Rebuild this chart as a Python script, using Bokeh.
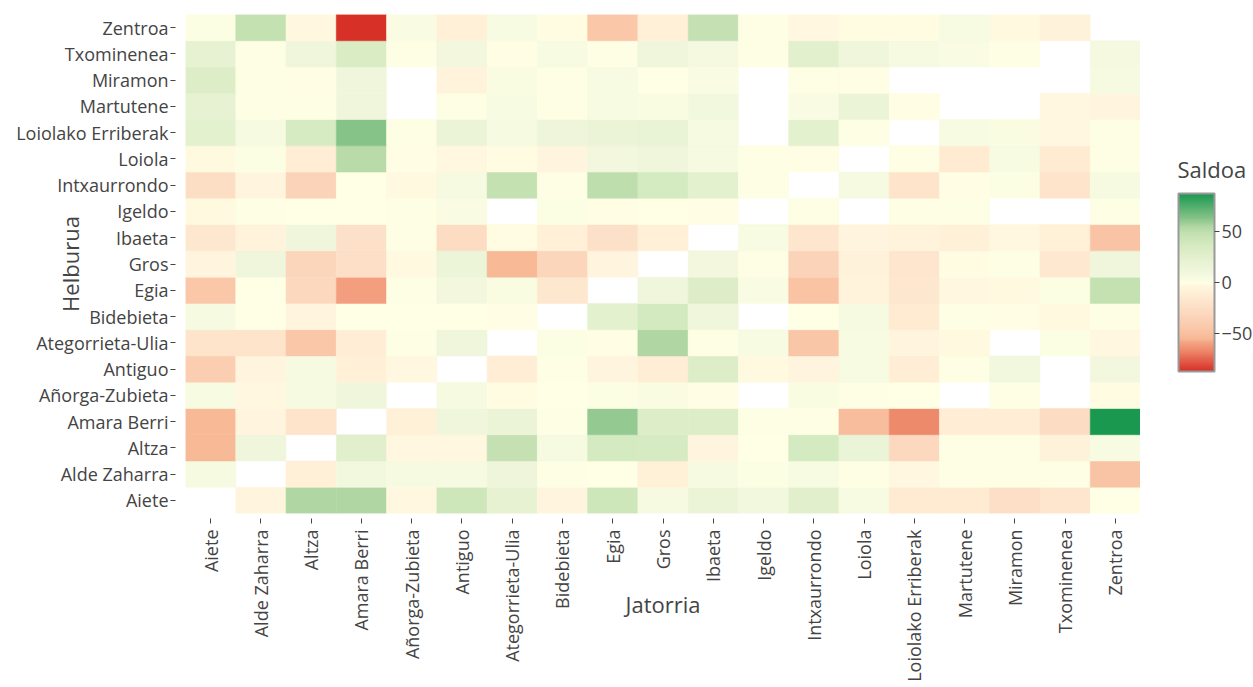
import math
from bokeh.plotting import figure
from bokeh.layouts import row
from bokeh.models import (ColumnDataSource, LinearColorMapper, ColorBar, FixedTicker,
                          FactorRange, Range1d, Label)
from bokeh.transform import transform
from bokeh.embed import file_html
from bokeh.resources import INLINE

# Districts (origin = columns "Jatorria", destination = rows "Helburua")
districts = ["Aiete", "Alde Zaharra", "Altza", "Amara Berri", "Añorga-Zubieta", "Antiguo",
             "Ategorrieta-Ulia", "Bidebieta", "Egia", "Gros", "Ibaeta", "Igeldo",
             "Intxaurrondo", "Loiola", "Loiolako Erriberak", "Martutene", "Miramon",
             "Txominenea", "Zentroa"]

# Net balance (Saldoa) per destination row, values in the column order of `districts`
# None = no data
to_Aiete = [None, -5, 55, 55, -4, 42, 22, -5, 42, 6, 16, 9, 26, 5, -14, -14, -24, -18, 0]
to_Alde_Zaharra = [6, None, -10, 9, 6, 6, 14, 1, 0, -9, 6, 2, 5, 1, -4, 1, 1, 1, -47]
to_Altza = [-55, 12, None, 26, -4, -4, 47, 6, 37, 35, -5, 0, 37, 18, -30, 1, 1, -8, 5]
to_Amara_Berri = [-55, -6, -20, None, -9, 12, 16, 1, 60, 30, 30, 1, 1, -52, -66, -12, -12, -27, 87]
to_Anorga_Zubieta = [5, -4, 6, 12, None, 6, -2, 0, 2, 3, -1, None, 3, 1, 0, None, 1, None, -2]
to_Antiguo = [-40, -5, 6, -10, -4, None, -12, 1, -5, -12, 30, -3, -6, 5, -12, 1, 9, None, 10]
to_Ategorrieta_Ulia = [-20, -20, -45, -12, 1, 12, None, 2, -1, 55, 1, 5, -46, 5, -6, -3, None, 2, -4]
to_Bidebieta = [6, 0, -6, 0, 0, 0, -1, None, 24, 38, 12, None, 0, 6, -14, 1, -1, -3, 1]
to_Egia = [-45, 0, -30, -60, 1, 10, 3, -17, None, 12, 30, 4, -48, -7, -17, -4, -3, 2, 48]
to_Gros = [-5, 12, -32, -24, -3, 15, -55, -32, -6, None, 10, 1, -35, -8, -18, -2, 1, -15, 12]
to_Ibaeta = [-16, -7, 12, -23, 1, -27, -2, -10, -23, -10, None, 5, -18, -5, -7, -9, -4, -9, -47]
to_Igeldo = [-3, 1, 0, 0, 1, 4, None, 2, -1, 0, -1, None, 1, None, 1, 1, None, None, 1]
to_Intxaurrondo = [-25, -5, -35, 0, -3, 6, 48, 1, 50, 37, 24, 1, None, 6, -20, -1, 2, -20, 6]
to_Loiola = [-3, 2, -12, 52, -1, -4, -2, -5, 10, 12, 6, 1, -1, None, 1, -14, 5, -14, 1]
to_Loiolako_Erriberak = [24, 6, 36, 63, 1, 16, 6, 14, 16, 19, 6, None, 24, 1, None, 5, 3, -4, 1]
to_Martutene = [22, 1, 1, 12, None, 1, 5, 1, 5, 3, 9, None, 4, 17, -1, None, None, -4, -5]
to_Miramon = [30, 1, -1, 12, None, -7, 3, 1, 5, 0, 4, None, 1, -1, None, None, None, None, 6]
to_Txominenea = [22, 1, 12, 33, 1, 10, -1, 5, 1, 12, 7, 1, 25, 12, 6, 4, 1, None, 7]
to_Zentroa = [2, 48, -4, -87, 4, -10, 5, -2, -45, -10, 47, 1, -4, -2, -2, 5, -3, -8, None]

saldoa_rows = [to_Aiete, to_Alde_Zaharra, to_Altza, to_Amara_Berri, to_Anorga_Zubieta,
               to_Antiguo, to_Ategorrieta_Ulia, to_Bidebieta, to_Egia, to_Gros, to_Ibaeta,
               to_Igeldo, to_Intxaurrondo, to_Loiola, to_Loiolako_Erriberak, to_Martutene,
               to_Miramon, to_Txominenea, to_Zentroa]

colorbar_ticks = [-50, 0, 50]
z_min, z_max = -87, 87

# ---- colour scale (red - cream - green) ----
stops = [(-87, (215, 48, 39)), (-66, (239, 140, 110)), (-60, (243, 160, 128)),
         (-55, (247, 185, 150)), (-45, (250, 200, 170)), (-27, (252, 220, 195)),
         (-18, (253, 230, 205)), (-10, (255, 240, 215)), (-5, (255, 245, 222)),
         (0, (255, 255, 228)), (6, (245, 250, 225)), (12, (240, 246, 220)),
         (22, (230, 242, 210)), (30, (222, 237, 200)), (37, (212, 234, 192)),
         (48, (196, 225, 178)), (55, (176, 215, 163)), (63, (134, 195, 136)),
         (87, (26, 152, 80))]


def colour_at(v):
    for (v0, c0), (v1, c1) in zip(stops[:-1], stops[1:]):
        if v0 <= v <= v1:
            t = (v - v0) / (v1 - v0)
            return tuple(round(a + (b - a) * t) for a, b in zip(c0, c1))
    return stops[-1][1] if v > 0 else stops[0][1]


n_col = 256
palette = ["#%02x%02x%02x" % colour_at(z_min + (z_max - z_min) * i / (n_col - 1))
           for i in range(n_col)]
mapper = LinearColorMapper(palette=palette, low=z_min, high=z_max)

xs, ys, vs = [], [], []
for dst, row_vals in zip(districts, saldoa_rows):
    for src, v in zip(districts, row_vals):
        if v is None:
            continue
        xs.append(src)
        ys.append(dst)
        vs.append(v)
source = ColumnDataSource(dict(x=xs, y=ys, v=vs))

FONT = "Open Sans"
TXT = "#444444"

# ---- heatmap ----
p = figure(x_range=FactorRange(*districts), y_range=FactorRange(*districts),
           frame_width=955, frame_height=499,
           min_border_left=185, min_border_top=14, min_border_right=0, min_border_bottom=172,
           output_backend="svg", toolbar_location=None)
p.rect(x="x", y="y", width=1, height=1, source=source,
       fill_color=transform("v", mapper), line_color=transform("v", mapper), line_width=0.5)

p.grid.visible = False
p.outline_line_color = None
p.background_fill_color = "white"
p.border_fill_color = "white"

for ax in (p.xaxis[0], p.yaxis[0]):
    ax.axis_line_color = None
    ax.major_tick_line_color = TXT
    ax.minor_tick_line_color = None
    ax.major_label_text_font = FONT
    ax.major_label_text_font_size = "18px"
    ax.major_label_text_color = TXT
    ax.axis_label_text_font = FONT
    ax.axis_label_text_font_size = "22px"
    ax.axis_label_text_font_style = "normal"
    ax.axis_label_text_color = TXT

p.yaxis.major_tick_in = -10
p.yaxis.major_tick_out = 15
p.yaxis.major_label_standoff = 2
p.yaxis.axis_label = "Helburua"
p.yaxis.axis_label_standoff = -72

p.xaxis.major_tick_in = -5
p.xaxis.major_tick_out = 10
p.xaxis.major_label_standoff = 6
p.xaxis.major_label_orientation = math.pi / 2
p.xaxis.axis_label = "Jatorria"
p.xaxis.axis_label_standoff = -96

# ---- colour bar panel (frame aligned with the heatmap frame) ----
p2 = figure(frame_width=113, frame_height=499,
            min_border_left=0, min_border_right=0, min_border_top=14, min_border_bottom=172,
            x_range=Range1d(0, 113), y_range=Range1d(0, 499),
            x_axis_location=None, y_axis_location=None,
            output_backend="svg", toolbar_location=None)
p2.grid.visible = False
p2.outline_line_color = None
p2.background_fill_color = "white"
p2.border_fill_color = "white"

cb = ColorBar(color_mapper=mapper, ticker=FixedTicker(ticks=colorbar_ticks),
              width=36, height=178, padding=0, location=(38, 142),
              major_label_text_font=FONT, major_label_text_font_size="18px",
              major_label_text_color=TXT, label_standoff=2,
              major_tick_in=0, major_tick_out=5, major_tick_line_color=TXT,
              minor_tick_line_color=None,
              bar_line_color="#999999", bar_line_width=2,
              border_line_color=None, background_fill_color=None)
p2.add_layout(cb, "center")

p2.add_layout(Label(x=37, y=345, text="Saldoa", text_font=FONT, text_font_size="22px",
                    text_color=TXT, text_align="left", text_baseline="middle"))

layout = row(p, p2)
open("out.html", "w").write(file_html(layout, INLINE))
